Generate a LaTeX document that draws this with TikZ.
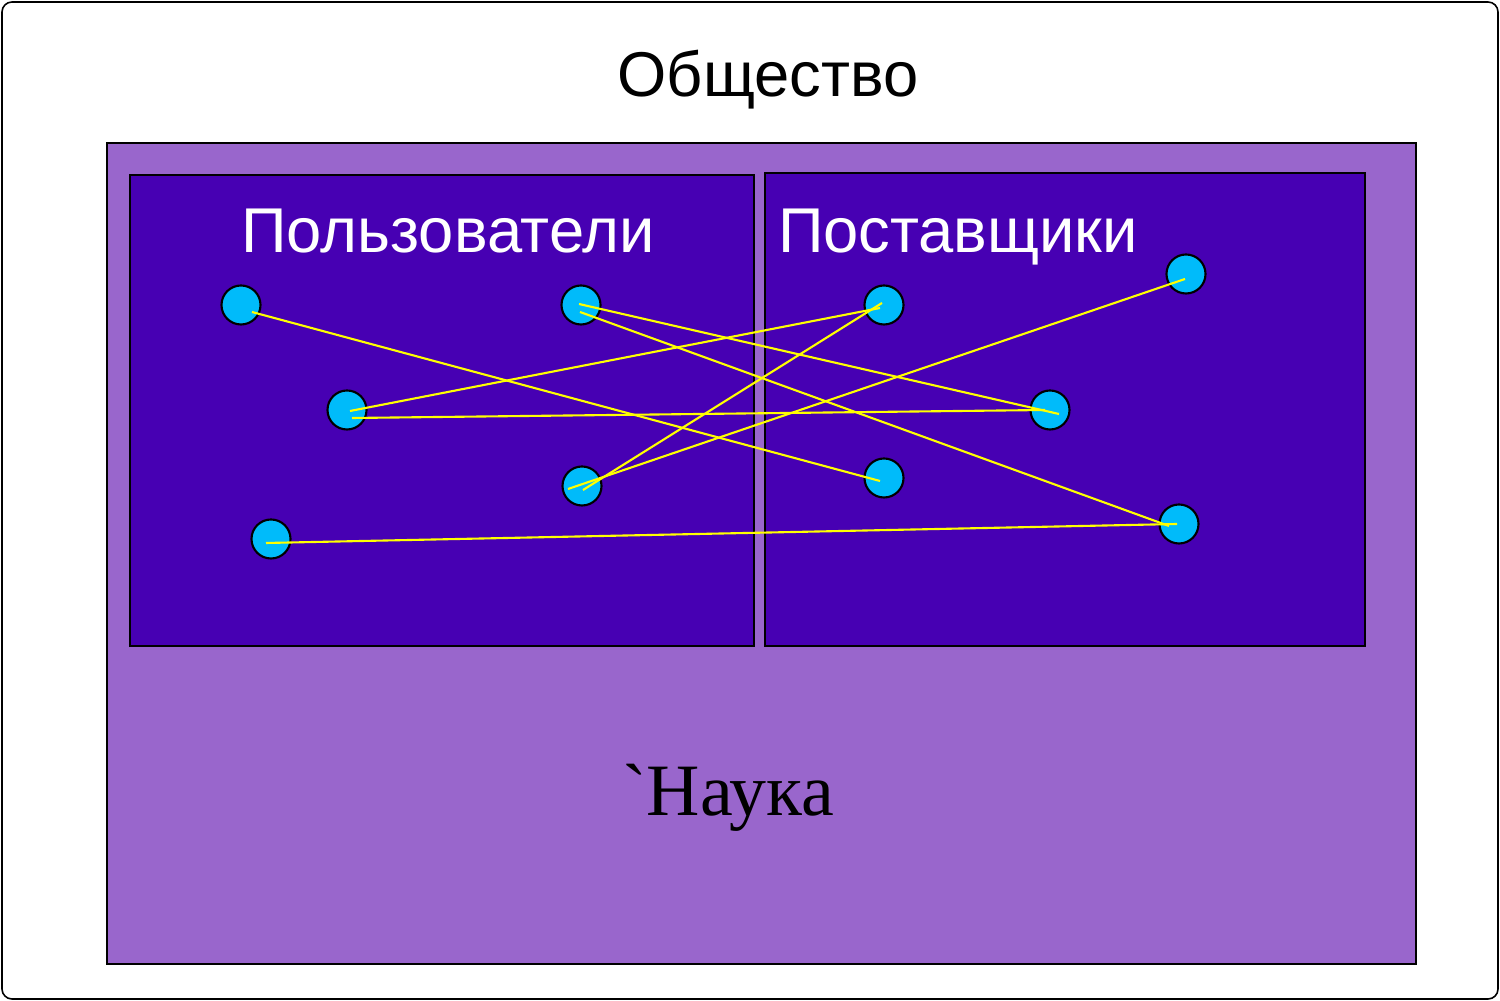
\documentclass[tikz,border=0pt]{standalone}
\usepackage{fontspec}
\setmainfont{Liberation Serif}[Ligatures=TeXOff]
\setsansfont{Liberation Sans}
\usepackage{tikz}
\definecolor{nauka}{RGB}{153,102,204}
\definecolor{box}{RGB}{71,0,179}
\definecolor{dot}{RGB}{0,187,250}
\definecolor{link}{RGB}{255,255,0}
\tikzstyle{area}=[draw=black,line width=0.45pt]
\tikzstyle{dotnode}=[circle,draw=black,line width=0.6pt,fill=dot,minimum size=0.39cm,inner sep=0pt]
\tikzstyle{title}=[font=\sffamily\fontsize{18}{20}\selectfont,inner sep=0pt,anchor=base]
\tikzstyle{linkline}=[draw=link,line width=0.6pt]

\begin{document}
\begin{tikzpicture}[x=0.01cm,y=-0.01cm]
  \useasboundingbox (0,0) rectangle (1500,1001);
  % society
  \draw[line width=0.45pt,rounded corners=0.1cm] (2,2) rectangle (1498,999);
  \node[title] (society) at (768,97) {Общество};
  % science
  \filldraw[area,fill=nauka] (107,143) rectangle (1416,964);
  \node[inner sep=0pt,anchor=base,font=\fontsize{21}{24}\selectfont] (science) at (728,816) {`Наука};
  % users and suppliers
  \filldraw[area,fill=box] (130,175) rectangle (754,646);
  \filldraw[area,fill=box] (765,173) rectangle (1365,646);
  \node[title,text=white] (users) at (448,253) {Пользователи};
  \node[title,text=white] (suppliers) at (958,253) {Поставщики};
  % users
  \node[dotnode] (u1) at (241,305) {};
  \node[dotnode] (u2) at (581,305) {};
  \node[dotnode] (u3) at (347,410) {};
  \node[dotnode] (u4) at (582,486) {};
  \node[dotnode] (u5) at (271,539) {};
  % suppliers
  \node[dotnode] (s1) at (884,305) {};
  \node[dotnode] (s2) at (1186,274) {};
  \node[dotnode] (s3) at (1050,410) {};
  \node[dotnode] (s4) at (884,478) {};
  \node[dotnode] (s5) at (1179,524) {};
  % links
  \draw[linkline] ([shift={(11,7)}]u1.center) -- ([shift={(-4,3)}]s4.center);
  \draw[linkline] ([shift={(-2,-1)}]u2.center) -- ([shift={(9,4)}]s3.center);
  \draw[linkline] ([shift={(-1,7)}]u2.center) -- ([shift={(-10,2)}]s5.center);
  \draw[linkline] ([shift={(3,1)}]u3.center) -- ([shift={(-4,3)}]s1.center);
  \draw[linkline] ([shift={(5,8)}]u3.center) -- ([shift={(-5,0)}]s3.center);
  \draw[linkline] ([shift={(-14,3)}]u4.center) -- ([shift={(-1,5)}]s2.center);
  \draw[linkline] ([shift={(1,4)}]u4.center) -- ([shift={(-2,-2)}]s1.center);
  \draw[linkline] ([shift={(-5,4)}]u5.center) -- ([shift={(-2,0)}]s5.center);
\end{tikzpicture}
\end{document}
